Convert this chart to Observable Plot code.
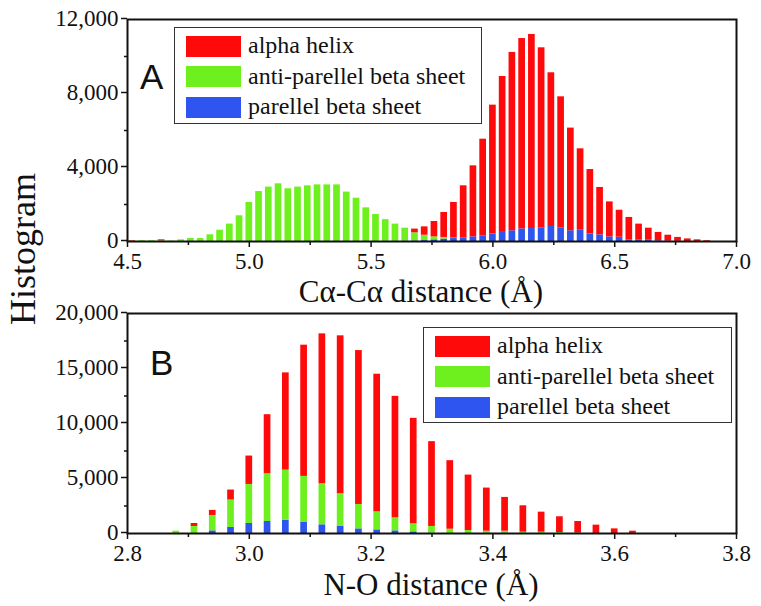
<!DOCTYPE html>
<html>
<head>
<meta charset="utf-8">
<script src="https://cdn.jsdelivr.net/npm/d3@7"></script>
<script src="https://cdn.jsdelivr.net/npm/@observablehq/plot@0.6"></script>
<style>
  html, body { margin: 0; padding: 0; background: #fff; }
  #wrap { position: relative; width: 761px; height: 606px; background: #fff; overflow: hidden; font-family: "Liberation Serif", "DejaVu Serif", serif; color: #111; }
  #wrap svg { position: absolute; left: 0; }
  .lbl { position: absolute; white-space: nowrap; line-height: 1; }
  .legend { position: absolute; border: 1.5px solid #333; background: #fff; box-sizing: border-box; }
  .row { position: absolute; left: 11px; height: 22px; display: flex; align-items: center; }
  .sw { width: 55px; height: 21px; margin-right: 7px; }
  .row span { font-size: 24px; line-height: 1; position: relative; top: -1px; }
  .panel { position: absolute; font-family: "Liberation Sans", Arial, sans-serif; font-size: 35px; line-height: 1; }
</style>
</head>
<body>
<div id="wrap"></div>
<script>
// ---------- Data ----------
const seriesNames = ["parellel beta sheet", "anti-parellel beta sheet", "alpha helix"]; // stack order bottom -> top
const legendOrder = ["alpha helix", "anti-parellel beta sheet", "parellel beta sheet"];
const seriesColors = ["#2e55f0", "#6ef01e", "#ff0a0a"];

// Panel A: Cα-Cα distance, bins of 0.04 Å (bin centres)
const xA = [4.52,4.56,4.60,4.64,4.68,4.72,4.76,4.80,4.84,4.88,4.92,4.96,5.00,5.04,5.08,5.12,5.16,5.20,5.24,5.28,
            5.32,5.36,5.40,5.44,5.48,5.52,5.56,5.60,5.64,5.68,5.72,5.76,5.80,5.84,5.88,5.92,5.96,6.00,6.04,6.08,
            6.12,6.16,6.20,6.24,6.28,6.32,6.36,6.40,6.44,6.48,6.52,6.56,6.60,6.64,6.68,6.72,6.76,6.80,6.84,6.88];
const parA   = [0,0,0,0,0,0,0,0,0,0,0,0,0,0,0,0,0,0,0,0,
                0,0,0,0,0,0,10,10,20,30,50,90,130,160,200,250,290,410,490,580,
                680,700,720,810,720,580,610,410,360,250,230,90,70,70,40,20,10,0,0,0];
const antiA  = [20,40,40,30,20,90,160,160,360,610,940,1390,2110,2700,2940,3120,2850,2940,3010,3060,
                3060,3060,2670,2340,1820,1460,1170,930,700,440,290,160,90,20,0,0,0,0,0,0,
                0,0,0,0,0,0,0,0,0,0,0,0,0,0,0,0,0,0,0,0];
const alphaA = [30,0,0,60,0,0,0,0,0,0,0,0,0,0,0,0,0,0,0,0,
                0,0,0,0,0,0,0,0,0,200,450,830,1350,1930,2810,3840,5240,6960,8430,9640,
                10290,10490,9750,8310,7100,5550,4400,3480,2560,1890,1460,1210,870,650,450,320,210,140,90,40];

// Panel B: N-O distance, bins of 0.03 Å (bin centres)
const xB = [2.88,2.91,2.94,2.97,3.00,3.03,3.06,3.09,3.12,3.15,3.18,3.21,3.24,3.27,3.30,3.33,3.36,3.39,3.42,3.45,
            3.48,3.51,3.54,3.57,3.60,3.63];
const parB   = [0,0,240,550,910,1090,1210,1000,790,670,420,330,240,150,30,0,0,0,0,0,0,0,0,0,0,0];
const antiB  = [210,640,1400,2490,3550,4340,4550,4190,3730,2940,2220,1640,1180,730,610,390,270,210,210,120,120,90,40,0,0,0];
const alphaB = [0,270,460,910,2580,5370,8840,11930,13630,14360,13990,12510,11050,9590,7710,6230,5040,3920,3070,2400,
                1820,1430,1050,760,420,210];

// Axis ticks
const majorXA = [4.5, 5.0, 5.5, 6.0, 6.5, 7.0];
const minorXA = [4.75, 5.25, 5.75, 6.25, 6.75];
const majorYA = [0, 4000, 8000, 12000];
const minorYA = [2000, 6000, 10000];
const majorXB = [2.8, 3.0, 3.2, 3.4, 3.6, 3.8];
const minorXB = [2.9, 3.1, 3.3, 3.5, 3.7];
const majorYB = [0, 5000, 10000, 15000, 20000];
const minorYB = [2500, 7500, 12500, 17500];

// ---------- Build stacked rows ----------
function stackRows(xs, seriesVals, halfWidth) {
  const rows = [];
  xs.forEach((x, i) => {
    let base = 0;
    seriesVals.forEach((vals, k) => {
      const v = vals[i];
      if (v > 0) rows.push({x1: x - halfWidth, x2: x + halfWidth, y1: base, y2: base + v, s: seriesNames[k]});
      base += v;
    });
  });
  return rows;
}
const rowsA = stackRows(xA, [parA, antiA, alphaA], 0.0137);
const rowsB = stackRows(xB, [parB, antiB, alphaB], 0.0055);

const fmt1 = d3.format(".1f");
const fmtC = d3.format(",");

function axes(xMaj, xMin, yMaj, yMin) {
  return [
    Plot.axisX({ticks: xMin, tickSize: 4, tickFormat: () => "", strokeWidth: 1.5, label: null}),
    Plot.axisX({ticks: xMaj, tickSize: 6, tickPadding: 5, tickFormat: fmt1, strokeWidth: 1.5, label: null}),
    Plot.axisY({ticks: yMin, tickSize: 3, tickFormat: () => "", strokeWidth: 1.5, label: null}),
    Plot.axisY({ticks: yMaj, tickSize: 6, tickPadding: 3, dy: -1, tickFormat: fmtC, strokeWidth: 1.5, label: null}),
    Plot.frame({stroke: "#111", strokeWidth: 2})
  ];
}

const commonStyle = {fontFamily: "Liberation Serif", fontSize: "23px", color: "#111", background: "transparent", overflow: "visible"};

const plotA = Plot.plot({
  width: 761, height: 310,
  marginTop: 19, marginBottom: 69, marginLeft: 127, marginRight: 25,
  x: {domain: [4.5, 7.0]},
  y: {domain: [0, 12000]},
  color: {domain: seriesNames, range: seriesColors},
  style: commonStyle,
  marks: [
    Plot.rect(rowsA, {x1: "x1", x2: "x2", y1: "y1", y2: "y2", fill: "s"}),
    ...axes(majorXA, minorXA, majorYA, minorYA)
  ]
});
plotA.style.top = "0px";

const plotB = Plot.plot({
  width: 761, height: 300,
  marginTop: 7, marginBottom: 73, marginLeft: 127, marginRight: 25,
  x: {domain: [2.8, 3.8]},
  y: {domain: [0, 20000]},
  color: {domain: seriesNames, range: seriesColors},
  style: commonStyle,
  marks: [
    Plot.rect(rowsB, {x1: "x1", x2: "x2", y1: "y1", y2: "y2", fill: "s"}),
    ...axes(majorXB, minorXB, majorYB, minorYB)
  ]
});
plotB.style.top = "306px";

const wrap = document.getElementById("wrap");
wrap.appendChild(plotA);
wrap.appendChild(plotB);

function addLabel(text, css, cls = "lbl") {
  const d = document.createElement("div");
  d.className = cls;
  d.textContent = text;
  Object.assign(d.style, css);
  wrap.appendChild(d);
  return d;
}

// Axis titles
addLabel("Cα-Cα distance (Å)", {left: "421px", top: "276px", fontSize: "31px", transform: "translateX(-50%)"});
addLabel("N-O distance (Å)", {left: "431px", top: "569px", fontSize: "31px", transform: "translateX(-50%)"});
addLabel("Histogram", {left: "23px", top: "249px", fontSize: "36px", transform: "translate(-50%,-50%) rotate(-90deg)"});

// Panel letters
addLabel("A", {left: "140px", top: "59px"}, "panel");
addLabel("B", {left: "150px", top: "345px"}, "panel");

// Legends
function addLegend(left, top, w, h) {
  const box = document.createElement("div");
  box.className = "legend";
  Object.assign(box.style, {left: left + "px", top: top + "px", width: w + "px", height: h + "px"});
  legendOrder.forEach((name, i) => {
    const r = document.createElement("div");
    r.className = "row";
    r.style.top = (7 + i * 30.5) + "px";
    const sw = document.createElement("div");
    sw.className = "sw";
    sw.style.background = seriesColors[seriesNames.indexOf(name)];
    const t = document.createElement("span");
    t.textContent = name;
    r.appendChild(sw); r.appendChild(t);
    box.appendChild(r);
  });
  wrap.appendChild(box);
}
addLegend(174, 27, 308, 97);
addLegend(423, 327, 309, 96);
</script>
</body>
</html>
